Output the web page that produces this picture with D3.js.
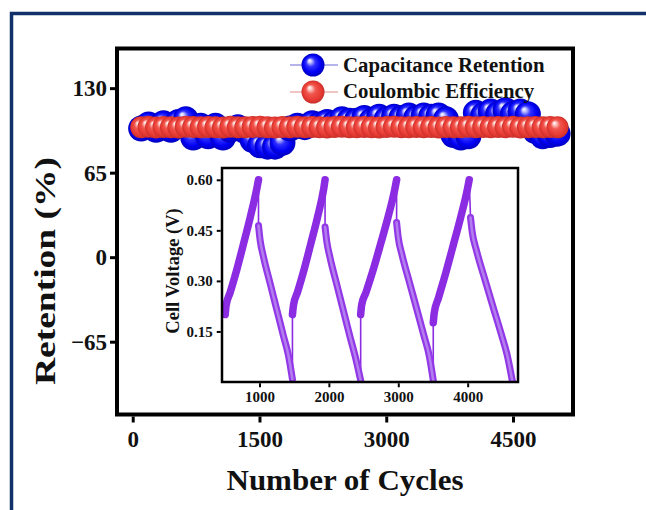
<!DOCTYPE html>
<html>
<head>
<meta charset="utf-8">
<script src="https://cdn.jsdelivr.net/npm/d3@7"></script>
<style>
  html, body { margin: 0; padding: 0; background: #fff; }
  svg { display: block; }
  text { font-family: "Liberation Serif", "Times New Roman", serif; font-weight: bold; fill: #111; }
</style>
</head>
<body>
<svg id="chart" width="646" height="510"></svg>
<script>
// ---- cycling stability data ----
const cycles = [100, 188, 276, 364, 452, 540, 628, 716, 804, 892, 980, 1068, 1156, 1244, 1332,
  1420, 1508, 1596, 1684, 1772, 1860, 1948, 2036, 2124, 2212, 2300, 2388, 2476, 2564, 2652,
  2740, 2828, 2916, 3004, 3092, 3180, 3268, 3356, 3444, 3532, 3620, 3708, 3796, 3884, 3972,
  4060, 4148, 4236, 4324, 4412, 4500, 4588, 4676, 4764, 4852, 4940, 5028];
const capacitanceRetention = [99, 102, 98, 103, 98, 104, 106, 92, 101, 93, 101, 92, 98, 100, 97,
  90, 86, 85, 85, 88, 99, 101, 100, 103, 102, 104, 103, 106, 105, 105,
  107, 105, 108, 106, 108, 107, 109, 107, 109, 108, 109, 106, 94, 92, 93,
  111, 109, 112, 110, 113, 110, 112, 110, 97, 93, 94, 95];
const coulombicEfficiency = [100, 100.3, 99.8, 100.2, 100, 99.7, 100.4, 100.1, 99.9, 100.2, 100, 99.8, 100.3, 100, 99.9,
  100.2, 100.4, 100, 99.8, 100.1, 100, 100.3, 99.9, 100.2, 100, 99.8, 100.1, 100.3, 100, 99.9,
  100.2, 100, 99.8, 100.1, 100.3, 100, 99.9, 100.2, 100, 100.1, 99.8, 100.2, 100, 99.9, 100.3,
  100, 100.2, 99.9, 100.1, 100, 100.3, 99.8, 100, 100.2, 99.9, 100.1, 100];
const xTicks = [0, 1500, 3000, 4500];
const yTicks = [-65, 0, 65, 130];
const seriesNames = ["Capacitance Retention", "Coulombic Efficiency"];

// ---- galvanostatic charge/discharge (inset) ----
const gcdTime = [
  506, 520, 578, 674, 770, 866, 962, 986,
  986, 1010, 1058, 1153, 1249, 1345, 1417, 1475,
  1475, 1490, 1547, 1643, 1739, 1835, 1926, 1945,
  1945, 1969, 2017, 2113, 2209, 2305, 2382, 2458,
  2458, 2472, 2535, 2640, 2746, 2851, 2952, 2976,
  2976, 3000, 3053, 3158, 3264, 3369, 3446, 3504,
  3504, 3518, 3580, 3686, 3791, 3897, 3998, 4022,
  4041, 4065, 4127, 4247, 4367, 4487, 4569, 4646];
const gcdVolt = [
  0.200, 0.228, 0.266, 0.334, 0.410, 0.488, 0.574, 0.600,
  0.464, 0.420, 0.371, 0.293, 0.215, 0.137, 0.079, 0.008,
  0.200, 0.228, 0.266, 0.334, 0.410, 0.488, 0.574, 0.600,
  0.460, 0.418, 0.369, 0.290, 0.212, 0.134, 0.074, 0.005,
  0.200, 0.228, 0.266, 0.334, 0.410, 0.488, 0.574, 0.600,
  0.473, 0.428, 0.378, 0.298, 0.218, 0.138, 0.078, 0.005,
  0.176, 0.205, 0.250, 0.325, 0.405, 0.487, 0.574, 0.600,
  0.488, 0.445, 0.390, 0.305, 0.222, 0.140, 0.080, 0.000];
const gcdPhase = [
  "C","C","C","C","C","C","C","C", "D","D","D","D","D","D","D","D",
  "C","C","C","C","C","C","C","C", "D","D","D","D","D","D","D","D",
  "C","C","C","C","C","C","C","C", "D","D","D","D","D","D","D","D",
  "C","C","C","C","C","C","C","C", "D","D","D","D","D","D","D","D"];
const insetXTicks = [1000, 2000, 3000, 4000];
const insetYTicks = [0.15, 0.30, 0.45, 0.60];

// ---- drawing ----
const svg = d3.select("#chart");
const defs = svg.append("defs");

function ballGradient(id, stops) {
  const g = defs.append("radialGradient").attr("id", id)
    .attr("cx", "50%").attr("cy", "50%").attr("r", "50%")
    .attr("fx", "34%").attr("fy", "30%");
  stops.forEach(([o, c]) => g.append("stop").attr("offset", o).attr("stop-color", c));
}
ballGradient("ballBlue", [["0%", "#ffffff"], ["14%", "#c9c9ff"], ["40%", "#3030ff"], ["75%", "#0000f4"], ["100%", "#0000c0"]]);
ballGradient("ballRed", [["0%", "#ffffff"], ["14%", "#ffd0cc"], ["42%", "#f0564e"], ["78%", "#e83b33"], ["100%", "#c8302a"]]);

// page border
svg.append("path").attr("d", "M11.5,510 V13.5 H646")
  .attr("fill", "none").attr("stroke", "#12306a").attr("stroke-width", 3.5);

// main plot frame geometry
const L = 117, R = 573, T = 48.5, B = 414.5;
const x = d3.scaleLinear().domain([-186, 5210]).range([L, R]);
const y = d3.scaleLinear().domain([-121, 160.5]).range([B, T]);

svg.append("clipPath").attr("id", "plotClip")
  .append("rect").attr("x", L).attr("y", T).attr("width", R - L).attr("height", B - T);

const plot = svg.append("g").attr("clip-path", "url(#plotClip)");

const pts = (vals) => cycles.map((c, i) => [c, vals[i]]);
const lineGen = d3.line().x(d => x(d[0])).y(d => y(d[1]));

plot.append("path").datum(pts(capacitanceRetention)).attr("d", lineGen)
  .attr("fill", "none").attr("stroke", "#0000ff").attr("stroke-width", 1);
plot.append("g").selectAll("circle").data(pts(capacitanceRetention)).join("circle")
  .attr("cx", d => x(d[0])).attr("cy", d => y(d[1])).attr("r", 13)
  .attr("fill", "url(#ballBlue)");

plot.append("path").datum(pts(coulombicEfficiency)).attr("d", lineGen)
  .attr("fill", "none").attr("stroke", "#e83b33").attr("stroke-width", 1);
plot.append("g").selectAll("circle").data(pts(coulombicEfficiency)).join("circle")
  .attr("cx", d => x(d[0])).attr("cy", d => y(d[1])).attr("r", 11)
  .attr("fill", "url(#ballRed)");

// legend
const legend = svg.append("g");
const legendRows = [
  { name: seriesNames[0], fill: "url(#ballBlue)", line: "#6b6bd6", cy: 65, base: 71.5 },
  { name: seriesNames[1], fill: "url(#ballRed)", line: "#e08a86", cy: 92, base: 97.5 }
];
legendRows.forEach(r => {
  legend.append("line").attr("x1", 290).attr("x2", 338).attr("y1", r.cy).attr("y2", r.cy)
    .attr("stroke", r.line).attr("stroke-width", 1);
  legend.append("circle").attr("cx", 313).attr("cy", r.cy).attr("r", 11.5).attr("fill", r.fill);
  legend.append("text").attr("x", 343).attr("y", r.base).attr("font-size", 20.8).text(r.name);
});

// frame
svg.append("rect").attr("x", L).attr("y", T).attr("width", R - L).attr("height", B - T)
  .attr("fill", "none").attr("stroke", "#000").attr("stroke-width", 4);

// axes
const yAxis = svg.append("g").attr("transform", `translate(${L - 2},0)`)
  .call(d3.axisLeft(y).tickValues(yTicks).tickSize(5).tickPadding(3).tickFormat(d3.format("d")));
const xAxis = svg.append("g").attr("transform", `translate(0,${B + 2})`)
  .call(d3.axisBottom(x).tickValues(xTicks).tickSize(6).tickFormat(d3.format("d")));
[yAxis, xAxis].forEach(a => {
  a.select(".domain").remove();
  a.selectAll(".tick line").attr("stroke", "#000").attr("stroke-width", 3);
  a.selectAll(".tick text").attr("font-size", 23).attr("fill", "#111")
    .attr("font-family", "'Liberation Serif', 'Times New Roman', serif").attr("font-weight", "bold");
});
xAxis.selectAll(".tick text").attr("y", 30).attr("dy", null);

svg.append("text").attr("x", 345).attr("y", 490).attr("text-anchor", "middle")
  .attr("font-size", 30).attr("textLength", 237).attr("lengthAdjust", "spacingAndGlyphs")
  .text("Number of Cycles");
svg.append("text").attr("transform", "translate(55,271) rotate(-90)").attr("text-anchor", "middle")
  .attr("font-size", 30).attr("textLength", 228).attr("lengthAdjust", "spacingAndGlyphs")
  .text("Retention (%)");

// ---- inset ----
const iL = 222, iR = 518, iT = 168, iB = 382;
const ix = d3.scaleLinear().domain([460, 4725]).range([iL, iR]);
const iy = d3.scaleLinear().domain([0, 0.635]).range([iB, iT]);

svg.append("rect").attr("x", iL).attr("y", iT).attr("width", iR - iL).attr("height", iB - iT)
  .attr("fill", "#fff");
svg.append("clipPath").attr("id", "insetClip")
  .append("rect").attr("x", iL).attr("y", iT - 6).attr("width", iR - iL).attr("height", iB - iT + 6);
const inset = svg.append("g").attr("clip-path", "url(#insetClip)");

const gcd = gcdTime.map((t, i) => ({ t, v: gcdVolt[i], p: gcdPhase[i] }));
const thin = d3.line().x(d => ix(d.t)).y(d => iy(d.v));
inset.append("path").datum(gcd).attr("d", thin)
  .attr("fill", "none").attr("stroke", "#8b2be2").attr("stroke-width", 1.6);

// split into charge / discharge branches
const branches = [];
gcd.forEach((d, i) => {
  if (i === 0 || d.p !== gcd[i - 1].p) branches.push({ phase: d.p, pts: [] });
  branches[branches.length - 1].pts.push(d);
});
const thick = d3.line().x(d => ix(d.t)).y(d => iy(d.v)).curve(d3.curveMonotoneX);
branches.forEach(b => {
  const path = inset.append("path").datum(b.pts).attr("d", thick).attr("fill", "none")
    .attr("stroke-linecap", "round").attr("stroke-linejoin", "round");
  if (b.phase === "C") {
    path.attr("stroke", "#8b2be2").attr("stroke-width", 7.5);
  } else {
    path.attr("stroke", "#9238e6").attr("stroke-width", 7);
    inset.append("path").datum(b.pts).attr("d", thick).attr("fill", "none")
      .attr("stroke", "#b88af0").attr("stroke-width", 2.6).attr("stroke-opacity", 0.85)
      .attr("stroke-linecap", "round");
  }
});

svg.append("rect").attr("x", iL).attr("y", iT).attr("width", iR - iL).attr("height", iB - iT)
  .attr("fill", "none").attr("stroke", "#000").attr("stroke-width", 2.5);

const iyAxis = svg.append("g").attr("transform", `translate(${iL - 1.25},0)`)
  .call(d3.axisLeft(iy).tickValues(insetYTicks).tickSize(4).tickPadding(4).tickFormat(d3.format(".2f")));
const ixAxis = svg.append("g").attr("transform", `translate(0,${iB + 1.25})`)
  .call(d3.axisBottom(ix).tickValues(insetXTicks).tickSize(4).tickFormat(d3.format("d")));
[iyAxis, ixAxis].forEach(a => {
  a.select(".domain").remove();
  a.selectAll(".tick line").attr("stroke", "#000").attr("stroke-width", 2);
  a.selectAll(".tick text").attr("font-size", 15).attr("fill", "#111")
    .attr("font-family", "'Liberation Serif', 'Times New Roman', serif").attr("font-weight", "bold");
});
ixAxis.selectAll(".tick text").attr("y", 19).attr("dy", null);

svg.append("text").attr("transform", "translate(178.5,271) rotate(-90)").attr("text-anchor", "middle")
  .attr("font-size", 18.5).text("Cell Voltage (V)");
</script>
</body>
</html>
